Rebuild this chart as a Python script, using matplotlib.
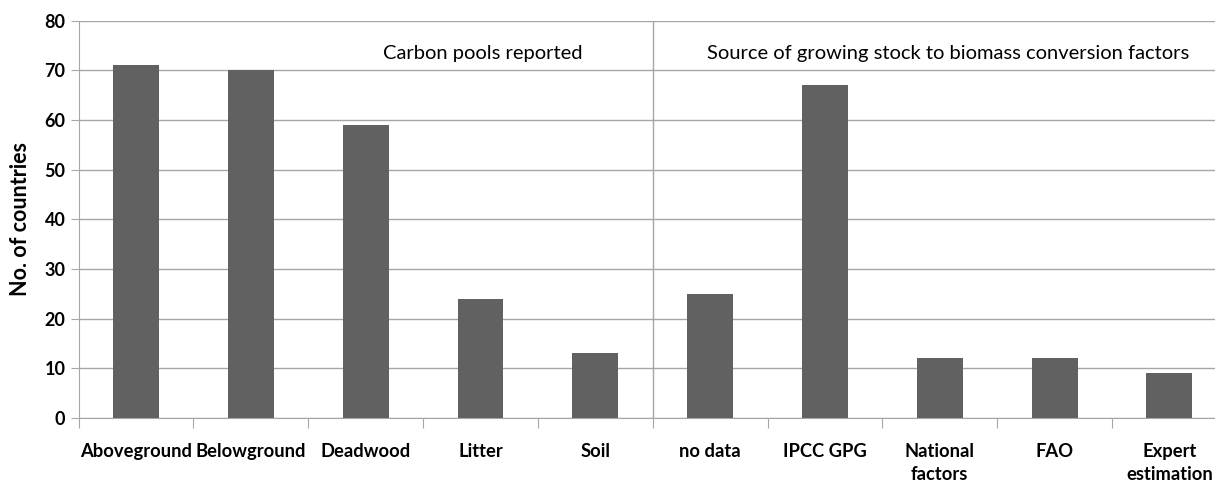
import matplotlib.pyplot as plt
import numpy as np

plt.rcParams['font.family'] = ['Lato', 'DejaVu Sans']

categories = ['Aboveground', 'Belowground', 'Deadwood', 'Litter', 'Soil',
              'no data', 'IPCC GPG', 'National\nfactors', 'FAO', 'Expert\nestimation']
counts = [71, 70, 59, 24, 13, 25, 67, 12, 12, 9]
group_titles = ['Carbon pools reported',
                'Source of growing stock to biomass conversion factors']

bar_color = '#616161'
line_color = '#a6a6a6'

fig = plt.figure(figsize=(12.15, 4.83), dpi=100)
# the plot area runs a little past the right edge, as in the original
ax = fig.add_axes([0.0647, 0.135, 0.945, 0.822])

x = np.arange(len(categories))
ax.bar(x, counts, width=0.4, color=bar_color, zorder=3)

ax.set_xlim(-0.5, len(categories) - 0.5)
ax.set_ylim(0, 80)
ax.set_yticks(range(0, 81, 10))
ax.yaxis.grid(True, color=line_color, linewidth=1, zorder=0)

# ticks at category boundaries, labels in between
ax.set_xticks(np.arange(-0.5, len(categories), 1.0))
ax.set_xticklabels([])
ax.set_xticks(x, minor=True)
ax.set_xticklabels(categories, minor=True, fontsize=13.2, fontweight='bold',
                   va='top', linespacing=1.45)
ax.tick_params(axis='x', which='major', length=7, color=line_color)
ax.tick_params(axis='x', which='minor', length=0, pad=18)
ax.tick_params(axis='y', length=6, color=line_color, labelsize=13)
for lab in ax.get_yticklabels():
    lab.set_fontweight('bold')

for s in ['top', 'right']:
    ax.spines[s].set_visible(False)
for s in ['left', 'bottom']:
    ax.spines[s].set_color(line_color)

# divider between the two groups
ax.axvline(4.5, color=line_color, linewidth=1, zorder=2)

ax.set_ylabel('No. of countries', fontsize=15.5, fontweight='bold', labelpad=10)

ax.text(3.02, 73.4, group_titles[0], fontsize=14.5, ha='center', va='center')
ax.text(7.07, 73.4, group_titles[1], fontsize=14.5, ha='center', va='center')

fig.savefig('out.png', dpi=100)
